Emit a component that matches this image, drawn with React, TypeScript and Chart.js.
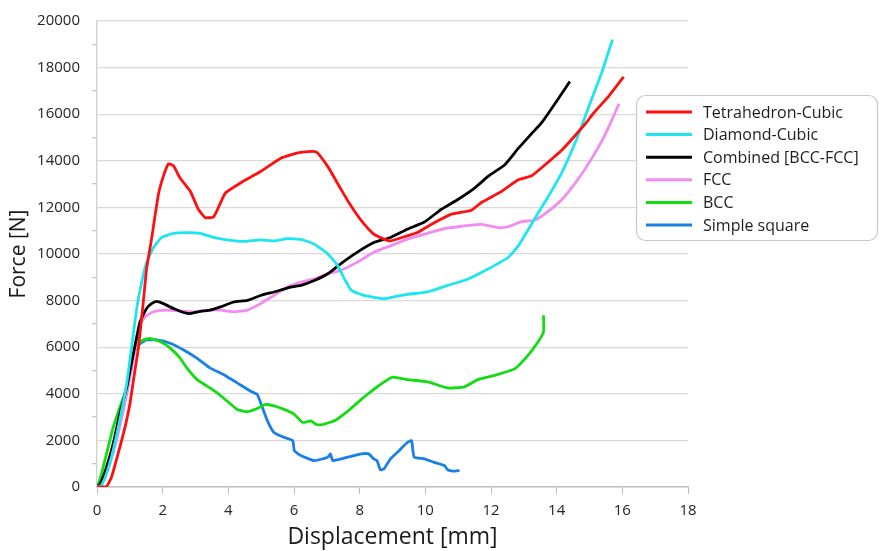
import React, { useEffect, useRef } from 'react';
import { Chart, registerables } from 'chart.js';

Chart.register(...registerables);

// [displacement mm, force N]
const tetrahedronCubic: [number, number][] = [
  [0, 0], [0.29, 30], [0.44, 420], [0.64, 1420], [0.85, 2550], [1.0, 3550], [1.15, 4960],
  [1.26, 5950], [1.41, 7940], [1.51, 9360], [1.66, 10630], [1.87, 12550], [2.02, 13330],
  [2.18, 13870], [2.33, 13780], [2.53, 13260], [2.84, 12690], [3.09, 11910], [3.3, 11560],
  [3.55, 11590], [3.76, 12190], [3.91, 12620], [4.37, 13050], [4.98, 13540], [5.6, 14110],
  [6.16, 14350], [6.67, 14390], [7.03, 13750], [7.41, 12830], [7.71, 12120], [8.02, 11490],
  [8.43, 10850], [8.74, 10640], [8.94, 10560], [9.45, 10780], [9.76, 10920], [10.27, 11340],
  [10.78, 11700], [11.4, 11880], [11.7, 12200], [12.32, 12690], [12.83, 13190], [13.24, 13360],
  [13.65, 13830], [14.16, 14460], [14.88, 15600], [15.12, 16040], [15.6, 16800], [16.04, 17600],
];

const diamondCubic: [number, number][] = [
  [0, 0], [0.13, 70], [0.29, 570], [0.49, 1560], [0.69, 2840], [0.9, 4400], [1.05, 5960],
  [1.21, 7660], [1.36, 8790], [1.51, 9640], [1.72, 10280], [1.97, 10710], [2.33, 10890],
  [2.74, 10920], [3.15, 10890], [3.55, 10710], [3.96, 10610], [4.47, 10540], [4.98, 10610],
  [5.39, 10560], [5.8, 10660], [6.21, 10630], [6.62, 10420], [7.03, 10000], [7.33, 9500],
  [7.55, 8900], [7.74, 8450], [8.12, 8220], [8.74, 8080], [9.35, 8250], [10.07, 8370],
  [10.68, 8650], [11.3, 8930], [11.91, 9360], [12.52, 9850], [12.83, 10350], [13.14, 11060],
  [13.44, 11770], [13.75, 12480], [14.16, 13500], [14.6, 14900], [15.0, 16400], [15.4, 17900],
  [15.7, 19200],
];

const combinedBccFcc: [number, number][] = [
  [0, 0], [0.1, 140], [0.29, 850], [0.49, 1840], [0.69, 3120], [0.9, 4250], [1.1, 5670],
  [1.31, 7090], [1.51, 7660], [1.66, 7870], [1.82, 7970], [2.02, 7870], [2.33, 7660],
  [2.64, 7490], [2.84, 7440], [3.15, 7540], [3.45, 7590], [3.76, 7730], [4.17, 7940],
  [4.58, 8010], [4.98, 8220], [5.39, 8370], [5.9, 8580], [6.21, 8650], [6.62, 8860],
  [7.03, 9150], [7.41, 9570], [7.92, 10070], [8.43, 10490], [8.94, 10710], [9.45, 11060],
  [9.97, 11370], [10.48, 11910], [10.99, 12340], [11.5, 12830], [11.91, 13330], [12.42, 13830],
  [12.83, 14530], [13.24, 15170], [13.55, 15650], [14.12, 16810], [14.4, 17400],
];

const fcc: [number, number][] = [
  [0, 0], [0.18, 280], [0.39, 990], [0.59, 1990], [0.8, 3260], [1.0, 4680], [1.15, 5810],
  [1.31, 6950], [1.46, 7300], [1.72, 7520], [2.12, 7590], [2.53, 7560], [2.94, 7520],
  [3.35, 7590], [3.76, 7590], [4.17, 7520], [4.58, 7590], [4.98, 7870], [5.39, 8220],
  [5.8, 8580], [6.21, 8790], [6.62, 8930], [7.03, 9150], [7.41, 9290], [7.92, 9640],
  [8.43, 10070], [8.94, 10350], [9.45, 10640], [9.97, 10850], [10.48, 11060], [10.99, 11170],
  [11.7, 11270], [12.22, 11130], [12.52, 11170], [12.93, 11390], [13.34, 11460], [13.75, 11840],
  [14.16, 12340], [14.57, 13050], [14.98, 13900], [15.39, 14890], [15.6, 15500], [15.9, 16450],
];

const bcc: [number, number][] = [
  [0, 0], [0.08, 280], [0.29, 1420], [0.49, 2550], [0.69, 3400], [0.9, 4250], [1.05, 5390],
  [1.21, 6100], [1.41, 6310], [1.61, 6380], [1.92, 6240], [2.23, 5960], [2.53, 5530],
  [2.74, 5100], [3.05, 4610], [3.35, 4330], [3.66, 4040], [3.96, 3690], [4.27, 3330],
  [4.58, 3230], [4.88, 3370], [5.14, 3550], [5.39, 3480], [5.7, 3330], [6.01, 3120],
  [6.26, 2770], [6.52, 2840], [6.67, 2690], [6.82, 2670], [7.23, 2840], [7.64, 3260],
  [8.05, 3760], [8.23, 3970], [8.63, 4400], [8.99, 4710], [9.45, 4610], [10.07, 4510],
  [10.68, 4250], [11.19, 4300], [11.6, 4610], [12.11, 4790], [12.73, 5080], [13.14, 5670],
  [13.44, 6240], [13.6, 6660], [13.6, 7370],
];

const simpleSquare: [number, number][] = [
  [0, 0], [0.13, 140], [0.34, 990], [0.54, 1990], [0.75, 3120], [0.95, 4400], [1.1, 5670],
  [1.26, 6100], [1.51, 6310], [1.82, 6310], [2.23, 6170], [2.64, 5880], [3.04, 5530],
  [3.45, 5100], [3.86, 4820], [4.27, 4470], [4.68, 4110], [4.88, 3970], [5.04, 3400],
  [5.19, 2840], [5.39, 2340], [5.7, 2130], [5.96, 1990], [6.01, 1560], [6.21, 1350],
  [6.62, 1130], [7.03, 1280], [7.11, 1420], [7.18, 1130], [7.64, 1280], [8.05, 1420],
  [8.27, 1420], [8.43, 1210], [8.53, 1130], [8.63, 740], [8.74, 780], [8.94, 1210],
  [9.2, 1560], [9.45, 1910], [9.58, 1990], [9.66, 1280], [9.97, 1210], [10.27, 1060],
  [10.58, 920], [10.68, 740], [10.84, 680], [11.04, 710],
];

const seriesNames = ['Tetrahedron-Cubic', 'Diamond-Cubic', 'Combined [BCC-FCC]', 'FCC', 'BCC', 'Simple square'];
const seriesColors = ['#ff1010', '#1ee6f0', '#000000', '#f28cf0', '#14dc14', '#1a80e6'];
const seriesData = [tetrahedronCubic, diamondCubic, combinedBccFcc, fcc, bcc, simpleSquare];

const boxLegend = {
  id: 'boxLegend',
  afterDraw(chart: Chart) {
    const ctx = chart.ctx;
    ctx.save();
    ctx.beginPath();
    ctx.roundRect(636.5, 95.5, 241, 145, 9);
    ctx.fillStyle = '#ffffff';
    ctx.fill();
    ctx.strokeStyle = '#c8c8c8';
    ctx.lineWidth = 1.2;
    ctx.stroke();
    ctx.font = '16px "Open Sans"';
    ctx.textBaseline = 'middle';
    chart.data.datasets.forEach((ds: any, i: number) => {
      const cy = 112 + i * 22.6;
      ctx.beginPath();
      ctx.moveTo(646, cy);
      ctx.lineTo(692, cy);
      ctx.strokeStyle = ds.borderColor;
      ctx.lineWidth = 3;
      ctx.stroke();
      ctx.fillStyle = '#1e1e1e';
      ctx.fillText(ds.label, 703, cy + 1);
    });
    ctx.restore();
  },
};

const App: React.FC = () => {
  const chartRef = useRef<HTMLCanvasElement>(null);
  const chartInstance = useRef<Chart | null>(null);

  useEffect(() => {
    document.body.style.margin = '0';
    if (chartRef.current) {
      const ctx = chartRef.current.getContext('2d');
      if (chartInstance.current) {
        chartInstance.current.destroy();
      }
      chartInstance.current = new Chart(ctx as CanvasRenderingContext2D, {
        type: 'line',
        data: {
          datasets: seriesData.map((d, i) => ({
            label: seriesNames[i],
            data: d.map(([x, y]) => ({ x, y })),
            borderColor: seriesColors[i],
            borderWidth: 2.8,
            pointRadius: 0,
            tension: 0.15,
            fill: false,
          })),
        },
        options: {
          responsive: false,
          animation: false,
          layout: { padding: { top: 17, right: 196, left: 0, bottom: 0 } },
          plugins: { legend: { display: false }, tooltip: { enabled: false } },
          scales: {
            x: {
              type: 'linear',
              min: 0,
              max: 18,
              ticks: { stepSize: 2, color: '#262626', font: { family: 'Open Sans', size: 15 }, padding: 8 },
              grid: { drawOnChartArea: false, tickLength: 7, tickColor: '#bfbfbf' },
              border: { color: '#bfbfbf', width: 1.5 },
              title: {
                display: true,
                text: 'Displacement [mm]',
                color: '#1a1a1a',
                font: { family: 'Open Sans', size: 23 },
                padding: { top: 2, bottom: 0 },
              },
              afterFit: (scale: any) => { scale.height = 64; },
            },
            y: {
              type: 'linear',
              min: 0,
              max: 20000,
              ticks: {
                stepSize: 1000,
                autoSkip: false,
                color: '#262626',
                font: { family: 'Open Sans', size: 15 },
                padding: 12,
                callback: (v: any) => (Number(v) % 2000 === 0 ? String(v) : ''),
              },
              grid: {
                color: (c: any) => (c.tick && c.tick.value % 2000 === 0 ? '#d9d9d9' : 'rgba(0,0,0,0)'),
                tickColor: (c: any) => (c.tick && c.tick.value % 2000 === 0 ? 'rgba(0,0,0,0)' : '#c8c8c8'),
                tickLength: 5,
                lineWidth: 1.3,
              },
              border: { color: '#d0d0d0', width: 1.3 },
              title: {
                display: true,
                text: 'Force [N]',
                color: '#1a1a1a',
                font: { family: 'Open Sans', size: 21 },
                padding: { top: 6, bottom: 0 },
              },
              afterFit: (scale: any) => { scale.width = 97; },
            },
          },
        },
        plugins: [boxLegend],
      });
    }
    return () => {
      if (chartInstance.current) {
        chartInstance.current.destroy();
        chartInstance.current = null;
      }
    };
  }, []);

  return (
    <div style={{ width: 884, height: 551, background: '#fff' }}>
      <canvas ref={chartRef} width={884} height={551} />
    </div>
  );
};

export default App;
